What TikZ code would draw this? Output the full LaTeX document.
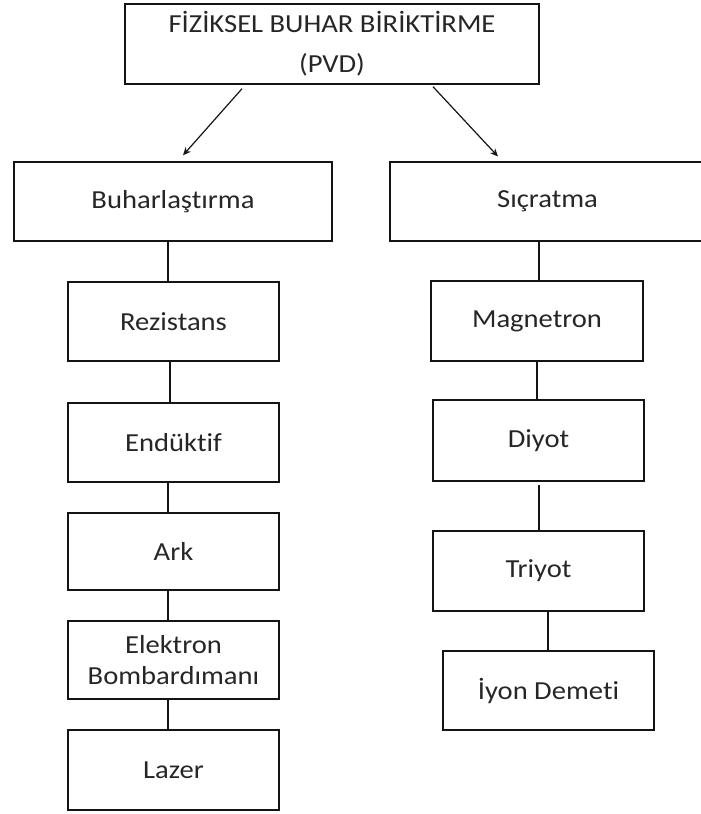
\documentclass[tikz,border=0pt]{standalone}
\usepackage{fontspec}
\setmainfont{Carlito}[FakeStretch=1.1, Ligatures=NoCommon]
\usetikzlibrary{arrows.meta}
\definecolor{txtc}{RGB}{38,38,38}
\definecolor{linec}{RGB}{20,20,20}
\tikzset{
  box/.style={draw=linec, line width=1.4pt, inner sep=0pt, align=center,
    text=txtc, font=\fontsize{26}{31}\selectfont},
  openbox/.style={box, draw=none, outer sep=0pt},
  link/.style={draw=linec, line width=1.4pt},
  arr/.style={draw=linec, line width=1.2pt, -{Stealth[length=8pt,width=7pt]}}
}
\begin{document}
\begin{tikzpicture}[x=1pt,y=-1pt]
\useasboundingbox (0,0) rectangle (701,814);
\clip (0,0) rectangle (701,814);
\node[box, minimum width=414pt, minimum height=80pt, font=\fontsize{26}{40}\selectfont] (pvd) at (332,44) {FİZİKSEL BUHAR BİRİKTİRME\\(PVD)};
\node[box, minimum width=318pt, minimum height=79pt] (buh) at (173,201.5) {Buharlaştırma};
\node[openbox, minimum width=315pt, minimum height=79pt] (sic) at (547.5,201.5) {Sıçratma};
\draw[link] (sic.north east) -- (sic.north west) -- (sic.south west) -- (sic.south east);
\node[box, minimum width=211pt, minimum height=79pt] (rez) at (173.5,321.5) {Rezistans};
\node[box, minimum width=211pt, minimum height=79pt] (end) at (173.5,442.5) {Endüktif};
\node[box, minimum width=211pt, minimum height=77pt] (ark) at (173.5,551.5) {Ark};
\node[box, minimum width=211pt, minimum height=78pt] (elek) at (173.5,660) {Elektron\\Bombardımanı};
\node[box, minimum width=211pt, minimum height=80pt] (laz) at (173.5,770) {Lazer};
\node[box, minimum width=212pt, minimum height=80pt] (mag) at (537,321) {Magnetron};
\node[box, minimum width=211pt, minimum height=81pt] (diy) at (538.5,440.5) {Diyot};
\node[box, minimum width=211pt, minimum height=80pt] (tri) at (538.5,571) {Triyot};
\node[box, minimum width=211pt, minimum height=79pt] (iyon) at (548.5,690.5) {İyon Demeti};
% arrows
\draw[arr] ([shift={(-90,4)}]pvd.south) -- ([shift={(10,-6)}]buh.north);
\draw[arr] ([shift={(101,2)}]pvd.south) -- ([shift={(-49.5,-5.5)}]sic.north);
% left chain
\draw[link] ([xshift=-5pt]buh.south) -- ([xshift=-5.5pt]rez.north);
\draw[link] ([xshift=-3.5pt]rez.south) -- ([xshift=-3.5pt]end.north);
\draw[link] ([xshift=-5.5pt]end.south) -- ([xshift=-5.5pt]ark.north);
\draw[link] ([xshift=-5.5pt]ark.south) -- ([xshift=-5.5pt]elek.north);
\draw[link] ([xshift=-5.5pt]elek.south) -- ([xshift=-5.5pt]laz.north);
% right chain
\draw[link] ([xshift=-8.5pt]sic.south) -- ([xshift=2pt]mag.north);
\draw[link] (mag.south) -- ([xshift=-1.5pt]diy.north);
\draw[link] ([shift={(0.5,3)}]diy.south) -- ([xshift=0.5pt]tri.north);
\draw[link] ([xshift=9.5pt]tri.south) -- ([xshift=-0.5pt]iyon.north);
\end{tikzpicture}
\end{document}
